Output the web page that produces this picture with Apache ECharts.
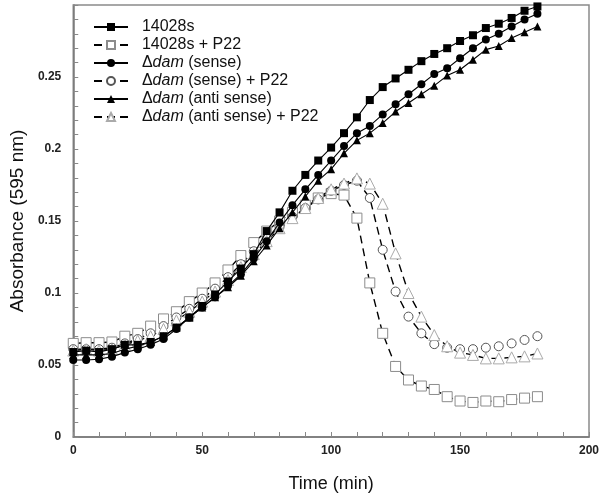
<!DOCTYPE html>
<html>
<head>
<meta charset="utf-8">
<script src="https://cdn.jsdelivr.net/npm/echarts@6/dist/echarts.min.js"></script>
<style>html,body{margin:0;padding:0;background:#fff}#c{width:604px;height:502px}</style>
</head>
<body>
<div id="c"></div>
<script>
const times = [0,5,10,15,20,25,30,35,40,45,50,55,60,65,70,75,80,85,90,95,100,105,110,115,120,125,130,135,140,145,150,155,160,165,170,175,180];
const seriesNames = ['14028s','14028s + P22','Δdam (sense)','Δdam (sense) + P22','Δdam (anti sense)','Δdam (anti sense) + P22'];
const wt = [0.059,0.060,0.059,0.061,0.064,0.064,0.066,0.070,0.076,0.083,0.091,0.099,0.108,0.117,0.127,0.143,0.156,0.171,0.182,0.192,0.201,0.211,0.222,0.234,0.243,0.249,0.255,0.261,0.266,0.270,0.275,0.279,0.284,0.287,0.291,0.296,0.299];
const wtP22 = [0.065,0.0655,0.0655,0.066,0.070,0.072,0.077,0.082,0.087,0.094,0.100,0.107,0.116,0.126,0.135,0.143,0.150,0.156,0.161,0.166,0.169,0.168,0.152,0.107,0.072,0.049,0.0396,0.0354,0.033,0.028,0.025,0.024,0.025,0.0245,0.026,0.027,0.028];
const sense = [0.0535,0.0535,0.054,0.0558,0.0586,0.061,0.064,0.068,0.075,0.083,0.090,0.097,0.105,0.113,0.124,0.136,0.149,0.161,0.172,0.182,0.192,0.202,0.211,0.216,0.224,0.231,0.238,0.245,0.252,0.256,0.263,0.270,0.276,0.280,0.285,0.290,0.294];
const senseP22 = [0.061,0.061,0.061,0.062,0.065,0.068,0.072,0.077,0.083,0.089,0.096,0.103,0.111,0.120,0.129,0.138,0.146,0.153,0.159,0.165,0.171,0.175,0.178,0.166,0.130,0.101,0.0836,0.072,0.0645,0.062,0.061,0.061,0.062,0.063,0.065,0.0674,0.070];
const anti = [0.057,0.057,0.057,0.058,0.061,0.063,0.066,0.070,0.076,0.083,0.090,0.097,0.104,0.112,0.122,0.133,0.145,0.156,0.167,0.178,0.186,0.197,0.206,0.211,0.218,0.226,0.232,0.238,0.244,0.251,0.255,0.262,0.269,0.2715,0.277,0.281,0.285];
const antiP22 = [0.060,0.061,0.060,0.061,0.064,0.067,0.070,0.075,0.081,0.087,0.094,0.101,0.109,0.118,0.127,0.136,0.145,0.152,0.159,0.166,0.172,0.176,0.1796,0.176,0.162,0.1275,0.100,0.0836,0.0708,0.063,0.0586,0.057,0.0546,0.0546,0.0553,0.056,0.058];
const xTicks = [0,50,100,150,200];
const yTicks = [0,0.05,0.1,0.15,0.2,0.25];

const FONT = '"Liberation Sans", Arial, sans-serif';
function pts(vals){ return times.map((t,i)=>[t, vals[i]]); }

function solid(name, vals, symbol, size){
  return {name, type:'line', data:pts(vals), symbol, symbolSize:size,
    lineStyle:{color:'#000', width:1.1, type:'solid'},
    itemStyle:{color:'#000', borderColor:'#000', borderWidth:0},
    emphasis:{disabled:true}, z:3};
}
function dashed(name, vals, symbol, size, border){
  return {name, type:'line', data:pts(vals), symbol, symbolSize:size,
    lineStyle:{color:'#000', width:1.4, type:[8,5]},
    itemStyle:{color:'#fff', borderColor:border, borderWidth:1},
    emphasis:{disabled:true}, z:2};
}

const chart = echarts.init(document.getElementById('c'), null, {renderer:'canvas'});
chart.setOption({
  animation:false,
  backgroundColor:'#fff',
  grid:{left:68, right:15, top:5, bottom:65, show:true, borderColor:'#8a8a8a', borderWidth:1.5, backgroundColor:'transparent'},
  legend:{
    orient:'vertical', left:88, top:14, itemWidth:34, itemHeight:10, itemGap:2,
    data:seriesNames,
    textStyle:{fontFamily:FONT, fontSize:16, color:'#111', lineHeight:16,
      rich:{n:{fontFamily:FONT, fontSize:16, color:'#111'}, i:{fontFamily:FONT, fontSize:16, fontStyle:'italic', color:'#111'}}},
    formatter:function(name){
      if(name.indexOf('Δdam')===0){ return '  {n|Δ}{i|dam}{n|'+name.slice(4)+'}'; }
      return '  {n|'+name+'}';
    }
  },
  xAxis:{type:'value', min:xTicks[0], max:xTicks[xTicks.length-1], interval:50,
    name:'Time (min)', nameLocation:'middle', nameGap:38,
    nameTextStyle:{fontFamily:FONT, fontSize:18, color:'#111'},
    axisLine:{show:true, lineStyle:{color:'#777', width:1.5}},
    axisTick:{show:true, inside:true, length:5, lineStyle:{color:'#888'}},
    minorTick:{show:true, splitNumber:5, length:5, lineStyle:{color:'#888'}},
    splitLine:{show:false},
    axisLabel:{fontFamily:FONT, fontSize:12, fontWeight:'bold', color:'#222', margin:8}
  },
  yAxis:{type:'value', min:0, max:0.3, interval:0.05,
    name:'Absorbance (595 nm)', nameLocation:'middle', nameGap:46,
    nameTextStyle:{fontFamily:FONT, fontSize:19, color:'#111'},
    axisLine:{show:true, lineStyle:{color:'#777', width:1.5}},
    axisTick:{show:true, inside:true, length:5, lineStyle:{color:'#888'}},
    minorTick:{show:true, splitNumber:5, length:5, lineStyle:{color:'#888'}},
    splitLine:{show:false},
    axisLabel:{fontFamily:FONT, fontSize:12, fontWeight:'bold', color:'#222', margin:12,
      formatter:function(v){ return yTicks.some(t=>Math.abs(t-v)<1e-9) ? String(+v.toFixed(2)) : ''; }}
  },
  series:[
    dashed(seriesNames[1], wtP22, 'rect', 10, '#8c8c8c'),
    dashed(seriesNames[3], senseP22, 'circle', 9, '#555'),
    dashed(seriesNames[5], antiP22, 'triangle', 11, '#aaa'),
    solid(seriesNames[0], wt, 'rect', 8),
    solid(seriesNames[2], sense, 'circle', 8),
    solid(seriesNames[4], anti, 'triangle', 8)
  ]
});
</script>
</body>
</html>
